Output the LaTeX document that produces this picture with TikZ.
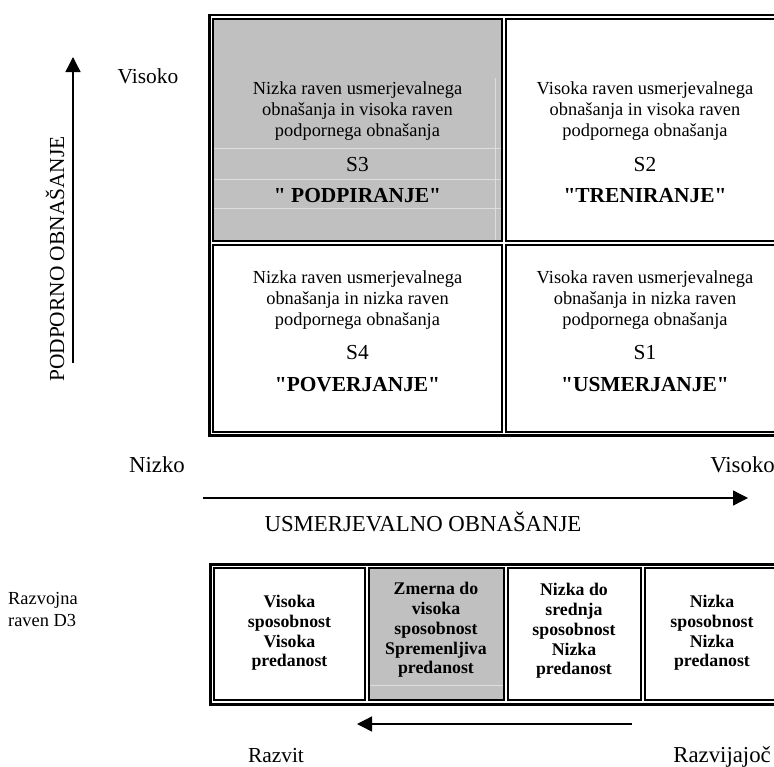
\documentclass[tikz,border=0pt]{standalone}
\usepackage{fontspec}
\setmainfont{Liberation Serif}[Ligatures=TeXOff]
\usetikzlibrary{arrows.meta}
\definecolor{cellgray}{RGB}{192,192,192}
\definecolor{faint}{RGB}{222,222,222}
\begin{document}
\begin{tikzpicture}[x=1pt,y=-1pt,
  frame/.style={line width=2.3pt},
  cellbox/.style={line width=2pt},
  desc/.style={font=\fontsize{18.4}{20.8}\selectfont, align=center, inner sep=0pt, anchor=north},
  slab/.style={font=\fontsize{21.4}{24}\selectfont, inner sep=0pt, anchor=base},
  blab/.style={font=\fontsize{21.4}{24}\selectfont\bfseries, inner sep=0pt, anchor=base},
  dtext/.style={font=\fontsize{17.8}{19.8}\selectfont\bfseries, align=center, inner sep=0pt},
  lab/.style={font=\fontsize{21.4}{24}\selectfont, inner sep=0pt},
  biglab/.style={font=\fontsize{22.8}{26}\selectfont, inner sep=0pt},
  axis/.style={line width=1.4pt, -{Triangle[length=15pt,width=15pt]}},
  faintline/.style={draw=faint, line width=0.8pt}
]
\useasboundingbox (0,0) rectangle (774,766);
\begin{scope}
\clip (0,0) rectangle (774,766);
% ---- top grid ----
\fill[cellgray] (213,18.5) rectangle (502,241);
\draw[faintline] (214,148) -- (501,148);
\draw[faintline] (214,179) -- (501,179);
\draw[faintline] (214,208) -- (501,208);
\draw[faintline] (495,78) -- (495,240);
\draw[cellbox] (213,18.5) rectangle (502,241);
\draw[cellbox] (506,18.5) rectangle (790,241);
\draw[cellbox] (213,245) rectangle (502,432);
\draw[cellbox] (506,245) rectangle (790,432);
\draw[frame] (209.5,15) rectangle (795,435.5);
% ---- bottom row ----
\fill[cellgray] (368.5,568) rectangle (503.5,700);
\draw[faintline] (369.5,685) -- (502.5,685);
\draw[cellbox] (214,568) rectangle (364.5,700);
\draw[cellbox] (368.5,568) rectangle (503.5,700);
\draw[cellbox] (507.5,568) rectangle (641,700);
\draw[cellbox] (645,568) rectangle (790,700);
\draw[frame] (210.5,564.5) rectangle (795,704.5);
\end{scope}
% ---- top grid texts ----
\node[desc] (d3) at (357.5,81.5) {Nizka raven usmerjevalnega\\obnašanja in visoka raven\\podpornega obnašanja};
\node[slab] (s3) at (357.5,171) {S3};
\node[blab] (n3) at (357.5,202) {" PODPIRANJE"};
\node[desc] (d2) at (645,81.5) {Visoka raven usmerjevalnega\\obnašanja in visoka raven\\podpornega obnašanja};
\node[slab] (s2) at (645,171) {S2};
\node[blab] (n2) at (645,202) {"TRENIRANJE"};
\node[desc] (d4) at (357.5,270.5) {Nizka raven usmerjevalnega\\obnašanja in nizka raven\\podpornega obnašanja};
\node[slab] (s4) at (357.5,359) {S4};
\node[blab] (n4) at (357.5,391) {"POVERJANJE"};
\node[desc] (d1) at (645,270.5) {Visoka raven usmerjevalnega\\obnašanja in nizka raven\\podpornega obnašanja};
\node[slab] (s1) at (645,359) {S1};
\node[blab] (n1) at (645,391) {"USMERJANJE"};
% ---- bottom row texts ----
\node[dtext] (c1) at (289.5,633) {Visoka\\sposobnost\\Visoka\\predanost};
\node[dtext] (c2) at (436,630) {Zmerna do\\visoka\\sposobnost\\Spremenljiva\\predanost};
\node[dtext] (c3) at (574,631) {Nizka do\\srednja\\sposobnost\\Nizka\\predanost};
\node[dtext] (c4) at (712,633) {Nizka\\sposobnost\\Nizka\\predanost};
% ---- axes and labels ----
\coordinate (vstart) at (73,363);
\coordinate (vend) at (73,57);
\draw[axis] (vstart) -- (vend);
\coordinate (hstart) at (203,498);
\coordinate (hend) at (748,498);
\draw[axis] (hstart) -- (hend);
\coordinate (bstart) at (632,724);
\coordinate (bend) at (357,724);
\draw[axis] (bstart) -- (bend);
\node[lab] (visokoL) at (148,76) {Visoko};
\node[lab, rotate=90] (podpor) at (55,259) {PODPORNO OBNAŠANJE};
\node[biglab] (nizko) at (157,465) {Nizko};
\node[biglab, anchor=east] (visokoR) at (775,465) {Visoko};
\node[biglab] (usm) at (423,522) {USMERJEVALNO OBNAŠANJE};
\node[lab, anchor=base] (razvit) at (276,762) {Razvit};
\node[biglab, anchor=base east] (razvij) at (771,762) {Razvijajoč};
\node[font=\fontsize{18.4}{22}\selectfont, align=left, anchor=north west, inner sep=0pt] (razvojna) at (8,592) {Razvojna\\raven D3};
\end{tikzpicture}
\end{document}
